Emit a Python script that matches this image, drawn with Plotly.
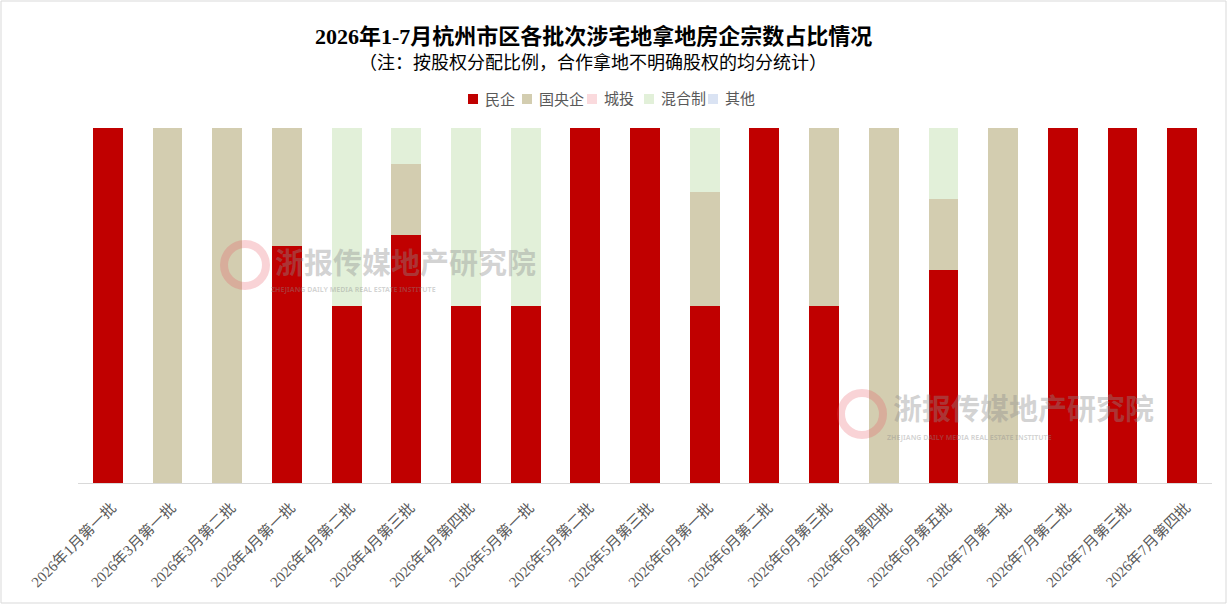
import plotly.graph_objects as go

# categories (land auction batches)
batches = [
    "2026年1月第一批", "2026年3月第一批", "2026年3月第二批", "2026年4月第一批",
    "2026年4月第二批", "2026年4月第三批", "2026年4月第四批", "2026年5月第一批",
    "2026年5月第二批", "2026年5月第三批", "2026年6月第一批", "2026年6月第二批",
    "2026年6月第三批", "2026年6月第四批", "2026年6月第五批", "2026年7月第一批",
    "2026年7月第二批", "2026年7月第三批", "2026年7月第四批",
]

# share of each company type per batch
minqi = [1, 0, 0, 0.667, 0.5, 0.7, 0.5, 0.5, 1, 1, 0.5, 1, 0.5, 0, 0.6, 0, 1, 1, 1]
guoyangqi = [0, 1, 1, 0.333, 0, 0.2, 0, 0, 0, 0, 0.32, 0, 0.5, 1, 0.2, 1, 0, 0, 0]
chengtou = [0] * 19
hunhezhi = [0, 0, 0, 0, 0.5, 0.1, 0.5, 0.5, 0, 0, 0.18, 0, 0, 0, 0.2, 0, 0, 0, 0]
qita = [0] * 19

series = [
    ("民企", minqi, "#C00000"),
    ("国央企", guoyangqi, "#D3CDB0"),
    ("城投", chengtou, "#FADADD"),
    ("混合制", hunhezhi, "#E2F0D9"),
    ("其他", qita, "#DAE3F3"),
]

W, H = 1228, 605
L, R, T, B = 78, 16, 128, 122
pw, ph = W - L - R, H - T - B


def px_x(x):
    return (x - L) / pw


def px_y(y):
    return (H - B - y) / ph


FONT = "Liberation Serif, Noto Sans CJK SC, serif"

fig = go.Figure()
for name, vals, color in series:
    fig.add_trace(go.Bar(x=batches, y=vals, name=name, marker_color=color,
                         marker_line_width=0, hoverinfo="x+y+name"))

fig.update_layout(
    width=W, height=H,
    barmode="stack", bargap=0.5,
    margin=dict(l=L, r=R, t=T, b=B),
    plot_bgcolor="#ffffff", paper_bgcolor="#ffffff",
    font=dict(family=FONT, color="#595959", size=14),
    showlegend=False,
)
fig.update_xaxes(tickangle=-45, showline=True, linecolor="#d9d9d9", linewidth=1,
                 ticks="", tickfont=dict(size=15, color="#595959"),
                 ticklabelstandoff=9, ticklabelshift=4)
fig.update_yaxes(range=[0, 1], visible=False)

# title and subtitle
fig.add_annotation(text="<b>2026年1-7月杭州市区各批次涉宅地拿地房企宗数占比情况</b>",
                   xref="paper", yref="paper", x=px_x(593), y=px_y(37),
                   xanchor="center", yanchor="middle",
                   showarrow=False, font=dict(size=22, color="#000000", family=FONT))
fig.add_annotation(text="（注：按股权分配比例，合作拿地不明确股权的均分统计）",
                   xref="paper", yref="paper", x=px_x(593), y=px_y(62),
                   xanchor="center", yanchor="middle",
                   showarrow=False, font=dict(size=18, color="#000000", family=FONT))

# legend drawn by hand so the spacing stays tight
legend_x = [468, 522, 587, 644, 708]
for (name, vals, color), lx in zip(series, legend_x):
    fig.add_shape(type="rect", xref="paper", yref="paper",
                  x0=px_x(lx), x1=px_x(lx + 10), y0=px_y(104), y1=px_y(94),
                  fillcolor=color, line_width=0)
    fig.add_annotation(text=name, xref="paper", yref="paper", x=px_x(lx + 15), y=px_y(99),
                       xanchor="left", yanchor="middle", showarrow=False,
                       font=dict(size=15, color="#595959"))

# watermarks
marks = [(245, 265, 405, 261, 353, 289), (862, 414, 1023, 407, 969, 437)]
for cx, cy, tx, ty, ex, ey in marks:
    fig.add_shape(type="circle", xref="paper", yref="paper",
                  x0=px_x(cx - 21), x1=px_x(cx + 21), y0=px_y(cy + 21), y1=px_y(cy - 21),
                  line=dict(color="rgba(230,80,90,0.25)", width=8), layer="above")
    fig.add_annotation(text="<b>浙报传媒地产研究院</b>", xref="paper", yref="paper",
                       x=px_x(tx), y=px_y(ty), xanchor="center", yanchor="middle",
                       showarrow=False,
                       font=dict(size=29, color="rgba(140,140,140,0.38)",
                                 family="Noto Sans CJK SC"))
    fig.add_annotation(text="<b>ZHEJIANG DAILY MEDIA REAL ESTATE INSTITUTE</b>",
                       xref="paper", yref="paper", x=px_x(ex), y=px_y(ey),
                       xanchor="center", yanchor="middle", showarrow=False,
                       font=dict(size=7, color="rgba(140,140,140,0.38)", family="Noto Sans"))

# outer frame
fig.add_shape(type="rect", xref="paper", yref="paper",
              x0=px_x(1), x1=px_x(1226), y0=px_y(603), y1=px_y(1),
              line=dict(color="#d9d9d9", width=1))

fig.write_html("out.html", config={"displayModeBar": False},
               post_script="document.body.style.margin='0';")
